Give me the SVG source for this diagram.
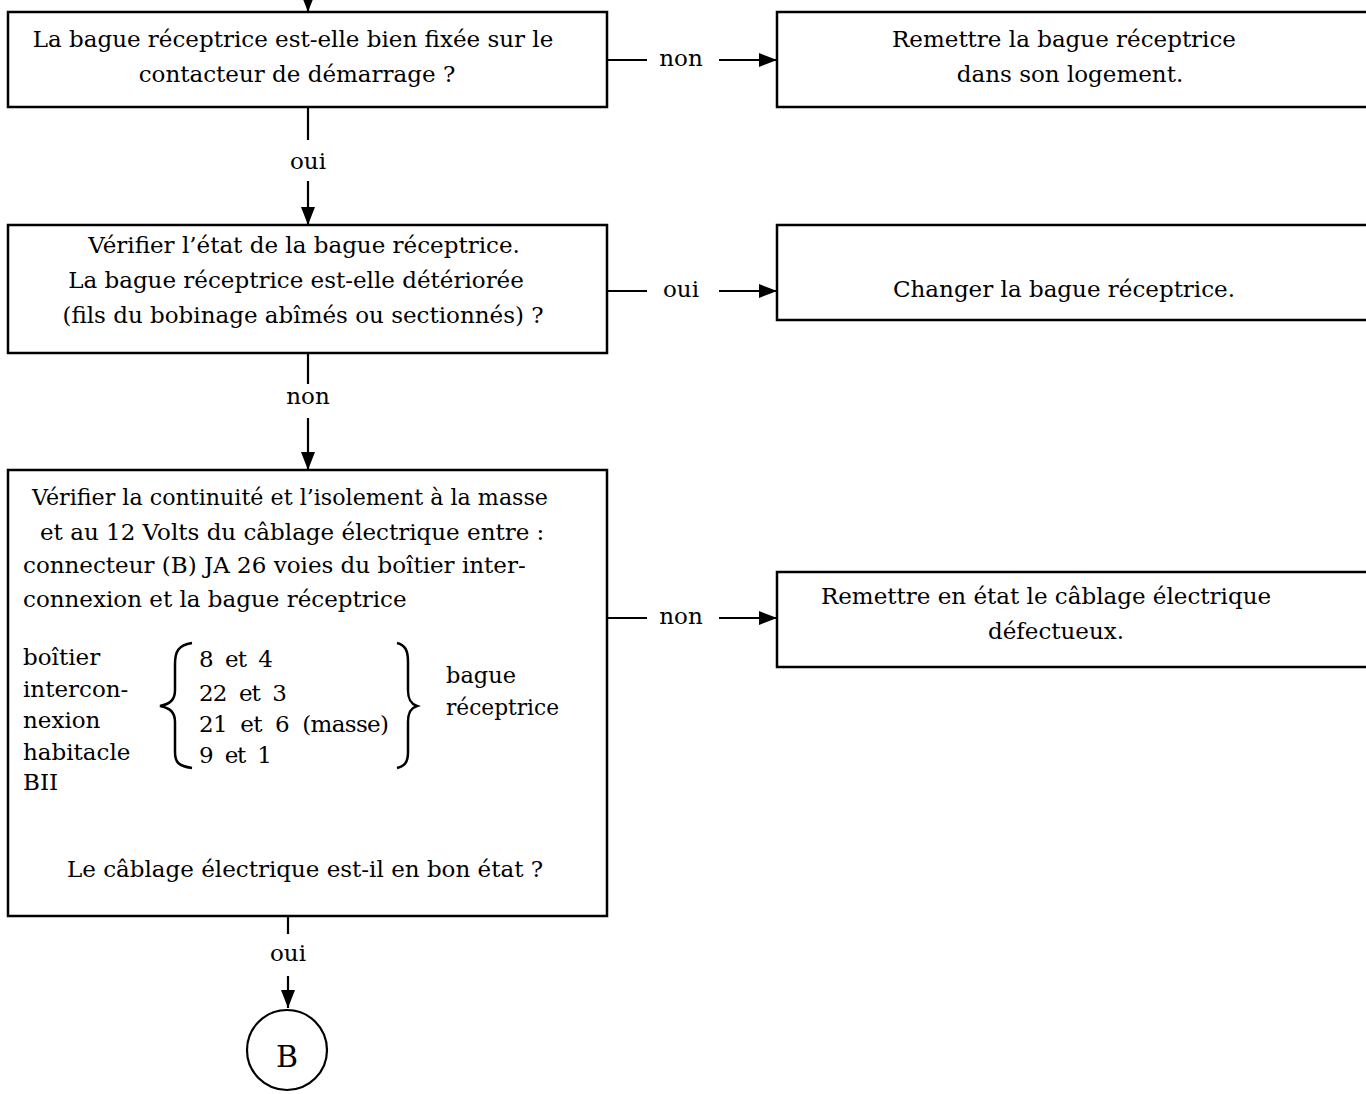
<svg xmlns="http://www.w3.org/2000/svg" width="1366" height="1094" viewBox="0 0 1366 1094">
<defs>
<marker id="ah" viewBox="0 0 18 14" refX="18" refY="7" markerWidth="18" markerHeight="14" markerUnits="userSpaceOnUse" orient="auto">
<path d="M0,0 L18,7 L0,14 Z" fill="#000"/>
</marker>
</defs>
<style>
text{font-family:"DejaVu Serif","Liberation Serif",serif;font-size:23px;fill:#000}
.c{text-anchor:middle}
.box{fill:#fff;stroke:#000;stroke-width:2.5}
.ln{fill:none;stroke:#000;stroke-width:2.2}
.br{fill:none;stroke:#000;stroke-width:2.5}
</style>
<rect width="1366" height="1094" fill="#fff"/>
<g id="connectors">
<line class="ln" x1="308" y1="-5" x2="308" y2="12" marker-end="url(#ah)"/>
<line class="ln" x1="308" y1="107" x2="308" y2="140"/>
<line class="ln" x1="308" y1="181" x2="308" y2="225" marker-end="url(#ah)"/>
<line class="ln" x1="308" y1="353" x2="308" y2="384"/>
<line class="ln" x1="308" y1="418" x2="308" y2="470" marker-end="url(#ah)"/>
<line class="ln" x1="288" y1="916" x2="288" y2="934"/>
<line class="ln" x1="288" y1="976" x2="288" y2="1008" marker-end="url(#ah)"/>
<line class="ln" x1="607" y1="60" x2="647" y2="60"/>
<line class="ln" x1="719" y1="60" x2="777" y2="60" marker-end="url(#ah)"/>
<line class="ln" x1="607" y1="291" x2="647" y2="291"/>
<line class="ln" x1="719" y1="291" x2="777" y2="291" marker-end="url(#ah)"/>
<line class="ln" x1="607" y1="618" x2="647" y2="618"/>
<line class="ln" x1="719" y1="618" x2="777" y2="618" marker-end="url(#ah)"/>
<text class="c" x="681" y="66">non</text>
<text class="c" x="308" y="169">oui</text>
<text class="c" x="681" y="297">oui</text>
<text class="c" x="308" y="404">non</text>
<text class="c" x="681" y="624">non</text>
<text class="c" x="288" y="961">oui</text>
</g>
<g id="q1">
<rect class="box" x="8" y="12" width="599" height="95"/>
<text class="c" x="293" y="47">La bague réceptrice est-elle bien fixée sur le</text>
<text class="c" x="297" y="82">contacteur de démarrage ?</text>
</g>
<g id="a1">
<rect class="box" x="777" y="12" width="600" height="95"/>
<text class="c" x="1064" y="47">Remettre la bague réceptrice</text>
<text class="c" x="1070" y="82">dans son logement.</text>
</g>
<g id="q2">
<rect class="box" x="8" y="225" width="599" height="128"/>
<text class="c" x="304" y="253">Vérifier l’état de la bague réceptrice.</text>
<text class="c" x="296" y="288">La bague réceptrice est-elle détériorée</text>
<text class="c" x="303" y="323">(fils du bobinage abîmés ou sectionnés) ?</text>
</g>
<g id="a2">
<rect class="box" x="777" y="225" width="600" height="95"/>
<text class="c" x="1064" y="297">Changer la bague réceptrice.</text>
</g>
<g id="q3">
<rect class="box" x="8" y="470" width="599" height="446"/>
<text x="32" y="505" textLength="516" lengthAdjust="spacingAndGlyphs">Vérifier la continuité et l’isolement à la masse</text>
<text x="40" y="540">et au 12 Volts du câblage électrique entre :</text>
<text x="23" y="573">connecteur (B) JA 26 voies du boîtier inter-</text>
<text x="23" y="607">connexion et la bague réceptrice</text>
<text x="23" y="665">boîtier</text>
<text x="23" y="697">intercon-</text>
<text x="23" y="728">nexion</text>
<text x="23" y="760">habitacle</text>
<text x="23" y="790">BII</text>
<path class="br" d="M192,643 C178,645 175,652 175,664 L175,690 C175,700 170,704 160,706 C170,708 175,712 175,722 L175,752 C175,762 178,766 192,768"/>
<text x="199" y="667" xml:space="preserve" textLength="74">8  et  4</text>
<text x="199" y="701" xml:space="preserve" textLength="88">22  et  3</text>
<text x="199" y="732" xml:space="preserve" textLength="190">21  et  6  (masse)</text>
<text x="199" y="763" xml:space="preserve" textLength="73">9  et  1</text>
<path class="br" d="M397,643 C405,645 408,650 408,662 L408,690 C408,700 411,704 417,706 C411,708 408,712 408,722 L408,752 C408,762 405,766 397,768"/>
<text x="446" y="683" textLength="70" lengthAdjust="spacingAndGlyphs">bague</text>
<text x="446" y="715" textLength="113" lengthAdjust="spacingAndGlyphs">réceptrice</text>
<text class="c" x="305" y="877">Le câblage électrique est-il en bon état ?</text>
</g>
<g id="a3">
<rect class="box" x="777" y="572" width="600" height="95"/>
<text class="c" x="1046" y="604">Remettre en état le câblage électrique</text>
<text class="c" x="1056" y="639">défectueux.</text>
</g>
<g id="B">
<circle cx="287" cy="1050" r="40" fill="#fff" stroke="#000" stroke-width="2.2"/>
<text class="c" x="287" y="1067" style="font-size:30px">B</text>
</g>
</svg>
